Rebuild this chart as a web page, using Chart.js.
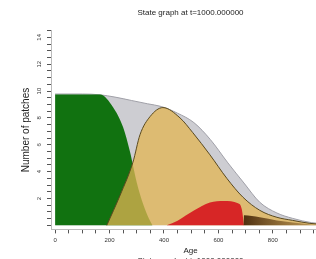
<!DOCTYPE html>
<html>
<head>
<meta charset="utf-8">
<script src="https://cdn.jsdelivr.net/npm/chart.js@4/dist/chart.umd.min.js"></script>
<style>
  html, body { margin: 0; padding: 0; overflow: hidden; background: #fff; }
  canvas { display: block; }
</style>
</head>
<body>
<canvas id="chart" width="330" height="268"></canvas>
<script>
const titleText = "State graph at t=1000.000000";

// total patches (grey envelope)
const greyAge = [0, 100, 165, 220, 280, 340, 390, 450, 510, 570, 635, 694, 752, 815, 873, 943, 1000];
const greyVal = [9.78, 9.78, 9.72, 9.55, 9.3, 9.05, 8.85, 8.35, 7.65, 6.4, 4.65, 3.15, 1.72, 0.92, 0.52, 0.2, 0.1];

// young state (green)
const greenAge = [0, 165, 213, 250, 275, 300, 325, 345, 358];
const greenVal = [9.75, 9.75, 8.8, 7.3, 5.5, 3.2, 1.5, 0.5, 0];

// mid state (tan)
const tanAge = [190, 239, 286, 312, 349, 396, 459, 506, 569, 631, 690, 752, 815, 873, 936, 1000];
const tanVal = [0, 2.25, 4.7, 6.75, 8.1, 8.77, 8.0, 6.9, 5.25, 3.5, 2.1, 1.12, 0.6, 0.37, 0.15, 0.05];

// red state
const redAge = [410, 450, 510, 569, 620, 672, 686, 694];
const redVal = [0, 0.35, 1.1, 1.7, 1.82, 1.65, 1.2, 0];

// old state (brown)
const brownAge = [692, 694, 752, 815, 873, 940, 1000];
const brownVal = [0, 0.75, 0.6, 0.37, 0.22, 0.07, 0];

const xTicks = [];
for (let v = 0; v <= 950; v += 50) xTicks.push(v);
const yTicks = [];
for (let v = 0; v <= 14.5; v += 0.5) yTicks.push(v);

const pts = (ages, vals) => ages.map((a, i) => ({ x: a, y: vals[i] }));

function area(ages, vals, bg, border, bw, order) {
    return {
        data: pts(ages, vals),
        backgroundColor: bg,
        borderColor: border,
        borderWidth: bw,
        pointRadius: 0,
        fill: "origin",
        cubicInterpolationMode: "monotone",
        order: order
    };
}

function brownFill(ctx) {
    const chart = ctx.chart;
    if (!chart.chartArea) return "rgba(90,55,15,0.85)";
    const x = chart.scales.x;
    const g = chart.ctx.createLinearGradient(x.getPixelForValue(694), 0, x.getPixelForValue(950), 0);
    g.addColorStop(0, "rgba(70,40,10,0.95)");
    g.addColorStop(1, "rgba(150,110,50,0.5)");
    return g;
}

Chart.defaults.font.family = "'Liberation Sans', Arial, sans-serif";
Chart.defaults.color = "#333";

const axisBase = {
    grid: { drawOnChartArea: false, drawTicks: true, tickLength: 4, tickColor: "#555" },
    border: { color: "#bbb", width: 1 }
};

const chart = new Chart(document.getElementById("chart"), {
    type: "line",
    data: {
        datasets: [
            area(greyAge, greyVal, "#cdcdd2", "#a0a0a8", 1, 5),
            area(greenAge, greenVal, "#117210", "#117210", 0, 4),
            area(tanAge, tanVal, "rgba(226,180,82,0.75)", "#5a4a20", 1, 3),
            area(redAge, redVal, "#d72626", "#d72626", 0, 2),
            area(brownAge, brownVal, brownFill, "rgba(0,0,0,0)", 0, 1)
        ]
    },
    options: {
        responsive: false,
        animation: false,
        devicePixelRatio: 1,
        layout: { padding: 0 },
        plugins: {
            legend: { display: false },
            tooltip: { enabled: false },
            title: {
                display: true,
                text: titleText,
                fullSize: false,
                color: "#222",
                font: { size: 8, weight: "normal" },
                padding: { top: 8, bottom: 13 }
            },
            subtitle: {
                display: true,
                text: titleText,
                position: "bottom",
                fullSize: false,
                color: "#222",
                font: { size: 8, weight: "normal" },
                padding: { top: 0, bottom: 2 }
            }
        },
        scales: {
            x: {
                ...axisBase,
                type: "linear",
                min: -15,
                max: 1010,
                afterBuildTicks: s => { s.ticks = xTicks.map(v => ({ value: v })); },
                afterFit: s => { s.height = 27; },
                ticks: {
                    font: { size: 6 },
                    padding: 3,
                    maxRotation: 0,
                    autoSkip: false,
                    callback: v => (v % 200 === 0 ? v : "")
                },
                title: {
                    display: true,
                    text: "Age",
                    color: "#222",
                    font: { size: 8 },
                    padding: { top: 1, bottom: 1 }
                }
            },
            y: {
                ...axisBase,
                min: -0.3,
                max: 14.5,
                afterBuildTicks: s => { s.ticks = yTicks.map(v => ({ value: v })); },
                afterFit: s => { s.width = 51; },
                ticks: {
                    font: { size: 6 },
                    padding: 4.5,
                    minRotation: 90,
                    maxRotation: 90,
                    crossAlign: "center",
                    autoSkip: false,
                    callback: v => (v > 0 && v % 2 === 0 ? v : "")
                },
                title: {
                    display: true,
                    text: "Number of patches",
                    color: "#222",
                    font: { size: 10 },
                    padding: { top: 20, bottom: 0 }
                }
            }
        }
    }
});
</script>
</body>
</html>
